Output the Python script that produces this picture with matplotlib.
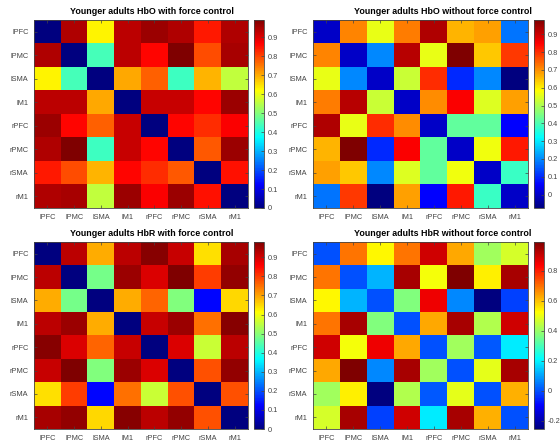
import numpy as np
import matplotlib
matplotlib.use("Agg")
import matplotlib.pyplot as plt
from matplotlib.colors import LinearSegmentedColormap
from matplotlib.ticker import FuncFormatter

regions = ["lPFC", "lPMC", "lSMA", "lM1", "rPFC", "rPMC", "rSMA", "rM1"]

# correlation matrices
hbo_with = [
    [0.00, 0.94, 0.63, 0.93, 0.96, 0.94, 0.84, 0.94],
    [0.94, 0.00, 0.44, 0.93, 0.86, 0.99, 0.79, 0.95],
    [0.63, 0.44, 0.00, 0.70, 0.77, 0.43, 0.69, 0.56],
    [0.93, 0.93, 0.70, 0.00, 0.92, 0.92, 0.86, 0.96],
    [0.96, 0.86, 0.77, 0.92, 0.00, 0.86, 0.82, 0.87],
    [0.94, 0.99, 0.43, 0.92, 0.86, 0.00, 0.78, 0.96],
    [0.84, 0.79, 0.69, 0.86, 0.82, 0.78, 0.00, 0.85],
    [0.94, 0.95, 0.56, 0.96, 0.87, 0.96, 0.85, 0.00],
]

hbo_without = [
    [0.00, 0.71, 0.56, 0.72, 0.93, 0.66, 0.68, 0.18],
    [0.71, 0.00, 0.20, 0.92, 0.56, 0.98, 0.64, 0.79],
    [0.56, 0.20, 0.00, 0.53, 0.80, 0.10, 0.20, -0.075],
    [0.72, 0.92, 0.53, 0.00, 0.70, 0.85, 0.55, 0.68],
    [0.93, 0.56, 0.80, 0.70, 0.00, 0.42, 0.42, 0.06],
    [0.66, 0.98, 0.10, 0.85, 0.42, 0.00, 0.57, 0.82],
    [0.68, 0.64, 0.20, 0.55, 0.42, 0.57, 0.00, 0.38],
    [0.18, 0.79, -0.075, 0.68, 0.06, 0.82, 0.38, 0.00],
]

hbr_with = [
    [0.00, 0.92, 0.69, 0.92, 0.97, 0.91, 0.64, 0.94],
    [0.92, 0.00, 0.48, 0.95, 0.89, 0.98, 0.80, 0.96],
    [0.69, 0.48, 0.00, 0.69, 0.76, 0.49, 0.13, 0.65],
    [0.92, 0.95, 0.69, 0.00, 0.91, 0.95, 0.75, 0.97],
    [0.97, 0.89, 0.76, 0.91, 0.00, 0.89, 0.56, 0.92],
    [0.91, 0.98, 0.49, 0.95, 0.89, 0.00, 0.78, 0.96],
    [0.64, 0.80, 0.13, 0.75, 0.56, 0.78, 0.00, 0.78],
    [0.94, 0.96, 0.65, 0.97, 0.92, 0.96, 0.78, 0.00],
]

hbr_without = [
    [0.00, 0.69, 0.53, 0.69, 0.89, 0.63, 0.41, 0.47],
    [0.69, 0.00, 0.12, 0.94, 0.51, 0.99, 0.54, 0.94],
    [0.53, 0.12, 0.00, 0.37, 0.85, 0.07, -0.255, -0.02],
    [0.69, 0.94, 0.37, 0.00, 0.63, 0.94, 0.43, 0.89],
    [0.89, 0.51, 0.85, 0.63, 0.00, 0.41, 0.01, 0.19],
    [0.63, 0.99, 0.07, 0.94, 0.41, 0.00, 0.49, 0.94],
    [0.41, 0.54, -0.255, 0.43, 0.01, 0.49, 0.00, 0.62],
    [0.47, 0.94, -0.02, 0.89, 0.19, 0.94, 0.62, 0.00],
]

titles = [
    "Younger adults HbO with force control",
    "Younger adults HbO without force control",
    "Younger adults HbR with force control",
    "Younger adults HbR without force control",
]

cbar_ticks = [
    [0, 0.1, 0.2, 0.3, 0.4, 0.5, 0.6, 0.7, 0.8, 0.9],
    [0, 0.1, 0.2, 0.3, 0.4, 0.5, 0.6, 0.7, 0.8, 0.9],
    [0, 0.1, 0.2, 0.3, 0.4, 0.5, 0.6, 0.7, 0.8, 0.9],
    [-0.2, 0, 0.2, 0.4, 0.6, 0.8],
]

# matlab style jet (breakpoints at eighths)
matlab_jet = LinearSegmentedColormap("matlab_jet", {
    "red":   [(0, 0, 0), (3 / 8, 0, 0), (5 / 8, 1, 1), (7 / 8, 1, 1), (1, 0.5, 0.5)],
    "green": [(0, 0, 0), (1 / 8, 0, 0), (3 / 8, 1, 1), (5 / 8, 1, 1), (7 / 8, 0, 0), (1, 0, 0)],
    "blue":  [(0, 0.5, 0.5), (1 / 8, 1, 1), (3 / 8, 1, 1), (5 / 8, 0, 0), (1, 0, 0)],
}, N=256)

W, H = 560, 441
fig = plt.figure(figsize=(W / 100, H / 100), dpi=100)
fig.patch.set_facecolor("white")

# pixel boxes: (left, top, right, bottom) of the heatmap axes
boxes = [(34, 20, 248, 208), (313, 20, 528, 208),
         (34, 242, 248, 429), (313, 242, 528, 429)]
title_pos = [(152, 11), (443, 11), (152, 233), (443, 233)]

grey = "#444444"
mats = [hbo_with, hbo_without, hbr_with, hbr_without]

for i, mat in enumerate(mats):
    l, t, r, b = boxes[i]
    ax = fig.add_axes([l / W, 1 - b / H, (r - l) / W, (b - t) / H])
    data = np.array(mat)
    im = ax.imshow(data, cmap=matlab_jet, aspect="auto", interpolation="nearest")
    ax.set_xticks(range(len(regions)))
    ax.set_yticks(range(len(regions)))
    ax.set_xticklabels(regions, fontsize=5.3, color=grey, family="Liberation Sans")
    ax.set_yticklabels(regions, fontsize=5.3, color=grey, family="Liberation Sans")
    ax.tick_params(direction="in", length=2, width=0.5, color=grey,
                   top=True, right=True, pad=4)
    for s in ax.spines.values():
        s.set_color(grey)
        s.set_linewidth(0.6)

    cax = fig.add_axes([(r + 6) / W, 1 - b / H, 10 / W, (b - t) / H])
    cb = fig.colorbar(im, cax=cax)
    cb.set_ticks(cbar_ticks[i])
    cb.ax.yaxis.set_major_formatter(FuncFormatter(lambda x, p: f"{x:g}"))
    cb.ax.tick_params(direction="in", length=2, width=0.5, color=grey,
                      labelsize=5.3, labelcolor=grey, pad=3)
    for lab in cb.ax.get_yticklabels():
        lab.set_family("Liberation Sans")
    cb.outline.set_edgecolor(grey)
    cb.outline.set_linewidth(0.6)

    tx, ty = title_pos[i]
    fig.text(tx / W, 1 - ty / H, titles[i], ha="center", va="center",
             fontsize=6.4, fontweight="bold", family="Liberation Sans", color="black")

fig.savefig("out.png", dpi=100)
